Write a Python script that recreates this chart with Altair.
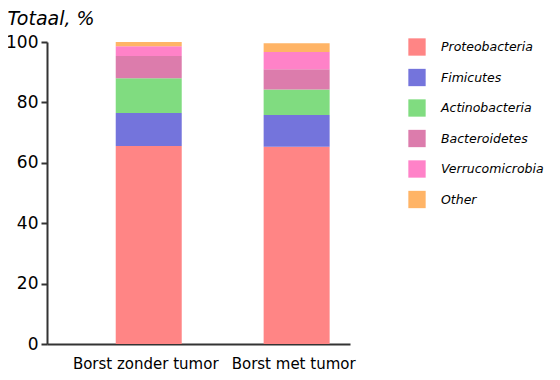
import altair as alt
import pandas as pd

groups = ["Borst zonder tumor", "Borst met tumor"]
group_pos = [1, 2]
phyla = ["Proteobacteria", "Fimicutes", "Actinobacteria", "Bacteroidetes", "Verrucomicrobia", "Other"]
vals_zonder = [65.6, 10.9, 11.5, 7.4, 3.2, 1.4]
vals_met = [65.3, 10.5, 8.5, 6.7, 5.7, 2.9]
colors = ["#ff8585", "#7474dc", "#80dc80", "#dc7cac", "#ff82c8", "#ffb466"]

rows = []
for g, p, vals in zip(groups, group_pos, [vals_zonder, vals_met]):
    for i, (ph, v) in enumerate(zip(phyla, vals)):
        rows.append({"group": g, "pos": p, "phylum": ph, "value": v, "order": i})
df = pd.DataFrame(rows)

label_expr = "datum.value == 1 ? 'Borst zonder tumor' : (datum.value == 2 ? 'Borst met tumor' : '')"

bars = alt.Chart(df).mark_bar(size=66).encode(
    x=alt.X("pos:Q", scale=alt.Scale(domain=[0.346, 2.327], nice=False, zero=False),
            axis=alt.Axis(values=group_pos, labelExpr=label_expr, title=None, grid=False,
                          ticks=False, domainColor="#333333", domainWidth=2,
                          labelFont="DejaVu Sans", labelFontSize=15, labelColor="#000000",
                          labelPadding=12, labelOffset=-3.5)),
    y=alt.Y("value:Q", stack="zero", scale=alt.Scale(domain=[0, 100], nice=False),
            axis=alt.Axis(values=[0, 20, 40, 60, 80, 100], title=None, grid=False,
                          tickSize=6, tickColor="#333333", tickWidth=2,
                          domainColor="#333333", domainWidth=2,
                          labelFont="DejaVu Sans", labelFontSize=17, labelColor="#000000",
                          labelPadding=3)),
    color=alt.Color("phylum:N", scale=alt.Scale(domain=phyla, range=colors),
                    legend=alt.Legend(title=None, orient="none", legendX=361, legendY=-4,
                                      symbolType="square", symbolSize=300, symbolStrokeWidth=0,
                                      labelFontStyle="italic", labelFont="DejaVu Sans",
                                      labelFontSize=12.5, labelColor="#000000", rowPadding=12.5,
                                      labelOffset=15)),
    order=alt.Order("order:Q"),
)

chart = bars.properties(
    width=303, height=302,
    autosize=alt.AutoSizeParams(type="none"),
    padding={"left": 39, "top": 34, "right": 202, "bottom": 28},
    title=alt.TitleParams("Totaal, %", anchor="start", fontStyle="italic", fontWeight="normal",
                          font="DejaVu Sans", fontSize=19, color="#000000", offset=4, dx=2),
).configure_view(stroke=None)

chart.save("out.html", embed_options={"renderer": "svg", "actions": False})
